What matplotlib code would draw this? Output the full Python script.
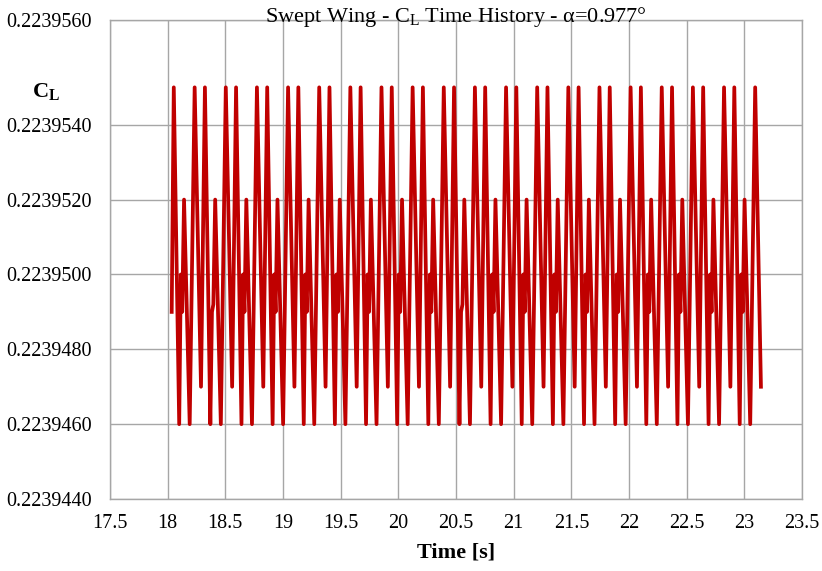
import matplotlib
matplotlib.use("Agg")
import matplotlib.pyplot as plt

plt.rcParams['font.family'] = ['Liberation Serif', 'DejaVu Serif']
plt.rcParams['mathtext.fontset'] = 'custom'
plt.rcParams['mathtext.rm'] = 'Liberation Serif'
plt.rcParams['mathtext.bf'] = 'Liberation Serif:bold'

# time [s] of each vertex, one oscillation cycle per line
time = [
    18.035, 18.053, 18.100, 18.114, 18.126, 18.142, 18.191,
    18.234, 18.289, 18.323, 18.370, 18.384, 18.396, 18.412, 18.461,
    18.504, 18.559, 18.593, 18.640, 18.654, 18.666, 18.682, 18.731,
    18.774, 18.829, 18.863, 18.910, 18.924, 18.936, 18.952, 19.001,
    19.044, 19.099, 19.133, 19.180, 19.194, 19.206, 19.222, 19.271,
    19.314, 19.369, 19.403, 19.450, 19.464, 19.476, 19.492, 19.541,
    19.584, 19.639, 19.673, 19.720, 19.734, 19.746, 19.762, 19.811,
    19.854, 19.909, 19.943, 19.990, 20.004, 20.016, 20.032, 20.081,
    20.124, 20.179, 20.213, 20.260, 20.274, 20.286, 20.302, 20.351,
    20.394, 20.449, 20.483, 20.530, 20.544, 20.556, 20.572, 20.621,
    20.664, 20.719, 20.753, 20.800, 20.814, 20.826, 20.842, 20.891,
    20.934, 20.989, 21.023, 21.070, 21.084, 21.096, 21.112, 21.161,
    21.204, 21.259, 21.293, 21.340, 21.354, 21.366, 21.382, 21.431,
    21.474, 21.529, 21.563, 21.610, 21.624, 21.636, 21.652, 21.701,
    21.744, 21.799, 21.833, 21.880, 21.894, 21.906, 21.922, 21.971,
    22.014, 22.069, 22.103, 22.150, 22.164, 22.176, 22.192, 22.241,
    22.284, 22.339, 22.373, 22.420, 22.434, 22.446, 22.462, 22.511,
    22.554, 22.609, 22.643, 22.690, 22.704, 22.716, 22.732, 22.781,
    22.824, 22.879, 22.913, 22.960, 22.974, 22.986, 23.002, 23.051,
    23.094, 23.144,
]

# lift coefficient at each vertex
cl = [
    0.2239490, 0.2239550, 0.2239460, 0.2239500, 0.2239490, 0.2239520, 0.2239460,
    0.2239550, 0.2239470, 0.2239550, 0.2239460, 0.2239490, 0.2239492, 0.2239520, 0.2239460,
    0.2239550, 0.2239470, 0.2239550, 0.2239460, 0.2239500, 0.2239490, 0.2239520, 0.2239460,
    0.2239550, 0.2239470, 0.2239550, 0.2239460, 0.2239500, 0.2239490, 0.2239520, 0.2239460,
    0.2239550, 0.2239470, 0.2239550, 0.2239460, 0.2239500, 0.2239490, 0.2239520, 0.2239460,
    0.2239550, 0.2239470, 0.2239550, 0.2239460, 0.2239500, 0.2239490, 0.2239520, 0.2239460,
    0.2239550, 0.2239470, 0.2239550, 0.2239460, 0.2239500, 0.2239490, 0.2239520, 0.2239460,
    0.2239550, 0.2239470, 0.2239550, 0.2239460, 0.2239500, 0.2239490, 0.2239520, 0.2239460,
    0.2239550, 0.2239470, 0.2239550, 0.2239460, 0.2239500, 0.2239490, 0.2239520, 0.2239460,
    0.2239550, 0.2239470, 0.2239550, 0.2239460, 0.2239490, 0.2239492, 0.2239520, 0.2239460,
    0.2239550, 0.2239470, 0.2239550, 0.2239460, 0.2239500, 0.2239490, 0.2239520, 0.2239460,
    0.2239550, 0.2239470, 0.2239550, 0.2239460, 0.2239500, 0.2239490, 0.2239520, 0.2239460,
    0.2239550, 0.2239470, 0.2239550, 0.2239460, 0.2239500, 0.2239490, 0.2239520, 0.2239460,
    0.2239550, 0.2239470, 0.2239550, 0.2239460, 0.2239500, 0.2239490, 0.2239520, 0.2239460,
    0.2239550, 0.2239470, 0.2239550, 0.2239460, 0.2239500, 0.2239490, 0.2239520, 0.2239460,
    0.2239550, 0.2239470, 0.2239550, 0.2239460, 0.2239500, 0.2239490, 0.2239520, 0.2239460,
    0.2239550, 0.2239470, 0.2239550, 0.2239460, 0.2239500, 0.2239490, 0.2239520, 0.2239460,
    0.2239550, 0.2239470, 0.2239550, 0.2239460, 0.2239500, 0.2239490, 0.2239520, 0.2239460,
    0.2239550, 0.2239470, 0.2239550, 0.2239460, 0.2239500, 0.2239490, 0.2239520, 0.2239460,
    0.2239550, 0.2239470,
]

x_ticks = [17.5, 18, 18.5, 19, 19.5, 20, 20.5, 21, 21.5, 22, 22.5, 23, 23.5]
x_labels = ['17.5', '18', '18.5', '19', '19.5', '20', '20.5', '21', '21.5', '22', '22.5', '23', '23.5']
# axis top sits a bit above the last gridline, labelled 0.2239560
y_min, y_max = 0.223944, 0.2239568
y_ticks = [0.223944, 0.223946, 0.223948, 0.223950, 0.223952, 0.223954, y_max]
y_labels = ['0.2239440', '0.2239460', '0.2239480', '0.2239500', '0.2239520', '0.2239540', '0.2239560']

fig = plt.figure(figsize=(8.22, 5.71), dpi=100)
ax = fig.add_axes([110 / 822, 1 - 499 / 571, 692 / 822, 479 / 571])

ax.plot(time, cl, color='#C00000', linewidth=2.7, solid_joinstyle='round')

ax.set_xlim(17.5, 23.5)
ax.set_ylim(y_min, y_max)
ax.set_xticks(x_ticks)
ax.set_xticklabels(x_labels)
ax.set_yticks(y_ticks)
ax.set_yticklabels(y_labels)
ax.tick_params(length=0, labelsize=14.5, colors='black')
ax.tick_params(axis='x', pad=11)
ax.tick_params(axis='y', pad=13)
ax.grid(True, color='#A6A6A6', linewidth=1.0)
ax.set_axisbelow(True)
for s in ax.spines.values():
    s.set_color('#A6A6A6')
    s.set_linewidth(1.0)

fig.text(456 / 822, 1 - 17 / 571, r'Swept Wing - C$_\mathregular{L}$ Time History - α=0.977°',
         ha='center', va='center', fontsize=16)
fig.text(456 / 822, 1 - 553 / 571, 'Time [s]', ha='center', va='center',
         fontsize=16, fontweight='bold')
fig.text(46 / 822, 1 - 91 / 571, r'$\mathbf{C_L}$', ha='center', va='center',
         fontsize=16)

fig.savefig('out.png', dpi=100)
